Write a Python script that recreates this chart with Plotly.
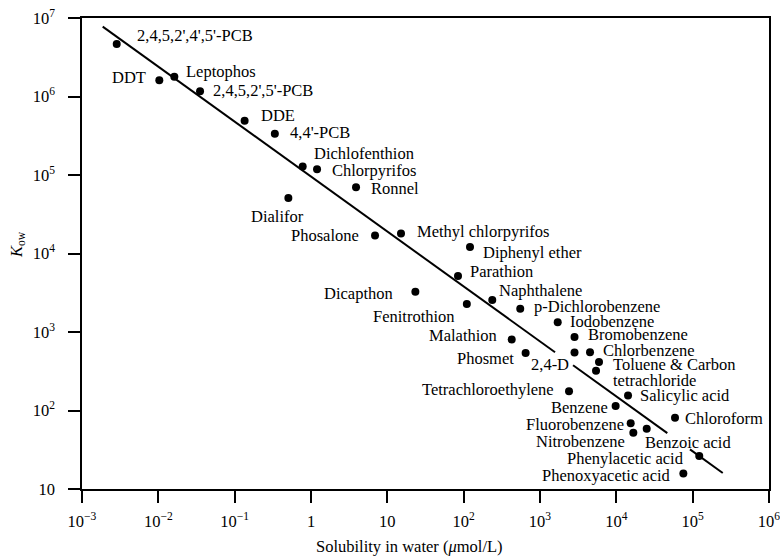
import numpy as np
import plotly.graph_objects as go

# Octanol-water partition coefficient vs. aqueous solubility
compounds = [
    "2,4,5,2',4',5'-PCB", "DDT", "Leptophos", "2,4,5,2',5'-PCB", "DDE", "4,4'-PCB",
    "Dichlofenthion", "Chlorpyrifos", "Ronnel", "Dialifor", "Phosalone",
    "Methyl chlorpyrifos", "Diphenyl ether", "Parathion", "Dicapthon", "Naphthalene",
    "Fenitrothion", "p-Dichlorobenzene", "Iodobenzene", "Malathion", "Bromobenzene",
    "Phosmet", "2,4-D", "Chlorbenzene", "Toluene", "Carbon tetrachloride",
    "Tetrachloroethylene", "Salicylic acid", "Benzene", "Chloroform", "Fluorobenzene",
    "Nitrobenzene", "Benzoic acid", "Phenylacetic acid", "Phenoxyacetic acid",
]
solubility = [
    0.00285, 0.0103, 0.0162, 0.0352, 0.135, 0.336,
    0.778, 1.20, 3.89, 0.505, 6.90,
    15.1, 121, 84.3, 23.3, 237,
    110, 551, 1706, 426, 2833,
    648, 2833, 4520, 5930, 5420,
    2400, 14230, 9790, 58700, 15420,
    16700, 25000, 122000, 75500,
]
kow = [
    4.67e6, 1.61e6, 1.79e6, 1.17e6, 4.92e5, 3.36e5,
    1.28e5, 1.18e5, 6.97e4, 5.09e4, 1.69e4,
    1.80e4, 1.21e4, 5.17e3, 3.26e3, 2.56e3,
    2.27e3, 1.98e3, 1.33e3, 802, 864,
    540, 548, 551, 415, 321,
    176, 155, 114, 80.9, 68.7,
    52.1, 58.6, 26.3, 15.8,
]

# Regression line: log Kow = a + b log S
fit_intercept = 4.98
fit_slope = -0.70
# log10(S) extents of the drawn line pieces (broken around two labels)
line_segments = [(-2.729, 3.197), (3.433, 4.668), (4.965, 5.394)]

x_tickvals = [1e-3, 1e-2, 1e-1, 1, 10, 1e2, 1e3, 1e4, 1e5, 1e6]
x_ticktext = ["10<sup>\u22123</sup>", "10<sup>\u22122</sup>", "10<sup>\u22121</sup>", "1", "10",
              "10<sup>2</sup>", "10<sup>3</sup>", "10<sup>4</sup>", "10<sup>5</sup>", "10<sup>6</sup>"]
y_tickvals = [10, 1e2, 1e3, 1e4, 1e5, 1e6, 1e7]
y_ticktext = ["10", "10<sup>2</sup>", "10<sup>3</sup>", "10<sup>4</sup>",
              "10<sup>5</sup>", "10<sup>6</sup>", "10<sup>7</sup>"]

# Label placement: (text, anchor side, dx px, dy px) relative to each point
label_place = {
    "2,4,5,2',4',5'-PCB": ("2,4,5,2',4',5'-PCB", "left", 18, -8),
    "DDT": ("DDT", "right", -11, -3),
    "Leptophos": ("Leptophos", "left", 10, -5),
    "2,4,5,2',5'-PCB": ("2,4,5,2',5'-PCB", "left", 11, -1),
    "DDE": ("DDE", "left", 14, -5),
    "4,4'-PCB": ("4,4'-PCB", "left", 13, -1),
    "Dichlofenthion": ("Dichlofenthion", "left", 9, -13),
    "Chlorpyrifos": ("Chlorpyrifos", "left", 13, 1),
    "Ronnel": ("Ronnel", "left", 13, 1),
    "Dialifor": ("Dialifor", "center", -11, 18),
    "Phosalone": ("Phosalone", "right", -14, 0),
    "Methyl chlorpyrifos": ("Methyl chlorpyrifos", "left", 14, -2),
    "Diphenyl ether": ("Diphenyl ether", "left", 11, 5),
    "Parathion": ("Parathion", "left", 10, -4),
    "Dicapthon": ("Dicapthon", "right", -20, 2),
    "Naphthalene": ("Naphthalene", "left", 5, -9),
    "Fenitrothion": ("Fenitrothion", "right", -10, 12),
    "p-Dichlorobenzene": ("p-Dichlorobenzene", "left", 12, -2),
    "Iodobenzene": ("Iodobenzene", "left", 10, -1),
    "Malathion": ("Malathion", "right", -13, -4),
    "Bromobenzene": ("Bromobenzene", "left", 11, -2),
    "Phosmet": ("Phosmet", "right", -10, 5),
    "2,4-D": ("2,4-D", "right", -4, 12),
    "Chlorbenzene": ("Chlorbenzene", "left", 11, -2),
    "Toluene": ("Toluene &amp; Carbon", "left", 12, 3),
    "Carbon tetrachloride": ("tetrachloride", "left", 15, 10),
    "Tetrachloroethylene": ("Tetrachloroethylene", "right", -13, -2),
    "Salicylic acid": ("Salicylic acid", "left", 10, 0),
    "Benzene": ("Benzene", "right", -6, 1),
    "Chloroform": ("Chloroform", "left", 8, 1),
    "Fluorobenzene": ("Fluorobenzene", "right", -5, 1),
    "Nitrobenzene": ("Nitrobenzene", "right", -6, 9),
    "Benzoic acid": ("Benzoic acid", "left", -4, 14),
    "Phenylacetic acid": ("Phenylacetic acid", "right", -13, 2),
    "Phenoxyacetic acid": ("Phenoxyacetic acid", "right", -10, 2),
}

FONT = "Liberation Serif, Times New Roman, serif"
FS = 16.5

fig = go.Figure()

# fitted line, drawn as separate pieces
lx, ly = [], []
for a, b in line_segments:
    xs = np.array([a, b])
    lx += list(10 ** xs) + [None]
    ly += list(10 ** (fit_intercept + fit_slope * xs)) + [None]
fig.add_trace(go.Scatter(x=lx, y=ly, mode="lines",
                         line=dict(color="black", width=2), hoverinfo="skip"))

fig.add_trace(go.Scatter(x=solubility, y=kow, mode="markers", text=compounds,
                         marker=dict(color="black", size=8)))

annotations = []
for name, s, k in zip(compounds, solubility, kow):
    text, side, dx, dy = label_place[name]
    annotations.append(dict(
        x=np.log10(s), y=np.log10(k), xref="x", yref="y",
        text=text, showarrow=False, xanchor=side, yanchor="middle",
        xshift=dx, yshift=-dy, font=dict(family=FONT, size=FS, color="black"),
    ))

# axis titles
annotations.append(dict(
    x=-0.0946, y=0.518, xref="paper", yref="paper",
    text="<i>K</i><sub>ow</sub>", textangle=-90, showarrow=False,
    xanchor="center", yanchor="middle",
    font=dict(family=FONT, size=FS, color="black"),
))
annotations.append(dict(
    x=0.4774, y=-0.1231, xref="paper", yref="paper",
    text="Solubility in water (<i>\u03bc</i>mol/L)", showarrow=False,
    xanchor="center", yanchor="middle",
    font=dict(family=FONT, size=FS, color="black"),
))

axis_common = dict(
    showline=True, linecolor="black", linewidth=1.5, mirror=True,
    ticks="outside", ticklen=12, tickwidth=1.5, tickcolor="black",
    showgrid=False, zeroline=False, automargin=False, ticklabeloverflow="allow",
    tickfont=dict(family=FONT, size=FS, color="black"),
)

fig.update_xaxes(type="log", range=[-3, 6], tickvals=x_tickvals, ticktext=x_ticktext,
                 ticklabelstandoff=4, **axis_common)
fig.update_yaxes(type="log", range=[1, 7], tickvals=y_tickvals, ticktext=y_ticktext,
                 ticklabelstandoff=10, **axis_common)

fig.update_layout(
    width=780, height=556,
    margin=dict(l=82, r=11, t=18, b=67),
    paper_bgcolor="white", plot_bgcolor="white",
    showlegend=False, annotations=annotations,
)

fig.write_html("out.html")
